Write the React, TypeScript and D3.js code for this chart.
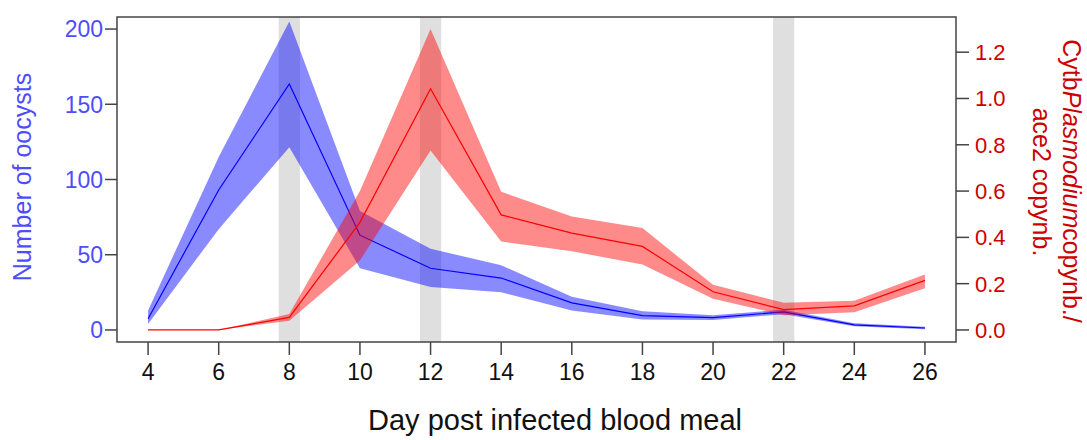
import React, { useRef, useEffect } from 'react';
import * as d3 from 'd3';

const days = [4, 6, 8, 10, 12, 14, 16, 18, 20, 22, 24, 26];

// oocyst counts (left axis)
const oocystMean = [7.5, 93, 163.5, 63, 41, 34.5, 18, 9.5, 8.2, 12, 3.4, 1.3];
const oocystUpper = [13, 115, 205, 79, 54, 43, 22, 12.5, 9.8, 13.5, 4.4, 2.2];
const oocystLower = [4, 67, 121.5, 41, 28.5, 25, 13, 7, 6.6, 10.5, 2.4, 0.5];

// Cytb / ace2 ratio (right axis)
const cytbMean = [0, 0, 0.054, 0.465, 1.042, 0.497, 0.418, 0.361, 0.165, 0.088, 0.104, 0.214];
const cytbUpper = [0, 0, 0.069, 0.6, 1.3, 0.597, 0.49, 0.44, 0.195, 0.118, 0.126, 0.24];
const cytbLower = [0, 0, 0.04, 0.3, 0.775, 0.382, 0.34, 0.283, 0.135, 0.064, 0.077, 0.18];

const highlightDays = [8, 12, 22];

const xTicks = [4, 6, 8, 10, 12, 14, 16, 18, 20, 22, 24, 26];
const leftTicks = [0, 50, 100, 150, 200];
const rightTicks = [0, 0.2, 0.4, 0.6, 0.8, 1.0, 1.2];

const App = () => {
  const svgRef = useRef<SVGSVGElement>(null);

  useEffect(() => {
    const width = 1087;
    const height = 440;
    const margin = { top: 17, right: 131, bottom: 98, left: 117 };
    const svg = d3.select(svgRef.current).attr('width', width).attr('height', height);
    svg.selectAll('*').remove();

    const font = '"Liberation Sans", Arial, sans-serif';
    const blueText = '#4d4dff';
    const redText = '#cc0000';
    const axisCol = '#444';

    // R style: 4% padding on each side
    const pad = (lo: number, hi: number) => [lo - (hi - lo) * 0.04, hi + (hi - lo) * 0.04];

    const x = d3.scaleLinear().domain(pad(4, 26)).range([margin.left, width - margin.right]);
    const yL = d3.scaleLinear().domain(pad(0, 200)).range([height - margin.bottom, margin.top]);
    const yR = d3.scaleLinear().domain(pad(0, 1.3)).range([height - margin.bottom, margin.top]);

    const top = margin.top;
    const bottom = height - margin.bottom;

    // grey day bands
    svg
      .selectAll('rect.band')
      .data(highlightDays)
      .enter()
      .append('rect')
      .attr('x', (d) => x(d - 0.3))
      .attr('width', (d) => x(d + 0.3) - x(d - 0.3))
      .attr('y', top)
      .attr('height', bottom - top)
      .attr('fill', '#dfdfdf');

    const idx = d3.range(days.length);

    const blueArea = d3
      .area<number>()
      .x((i) => x(days[i]))
      .y0((i) => yL(oocystLower[i]))
      .y1((i) => yL(oocystUpper[i]));
    const blueLine = d3
      .line<number>()
      .x((i) => x(days[i]))
      .y((i) => yL(oocystMean[i]));

    const redArea = d3
      .area<number>()
      .x((i) => x(days[i]))
      .y0((i) => yR(cytbLower[i]))
      .y1((i) => yR(cytbUpper[i]));
    const redLine = d3
      .line<number>()
      .x((i) => x(days[i]))
      .y((i) => yR(cytbMean[i]));

    svg.append('path').attr('d', blueArea(idx)).attr('fill', 'rgba(0,0,255,0.46)');
    svg.append('path').attr('d', blueLine(idx)).attr('fill', 'none').attr('stroke', '#0000ff').attr('stroke-width', 1.2);
    svg.append('path').attr('d', redArea(idx)).attr('fill', 'rgba(255,0,0,0.46)');
    svg.append('path').attr('d', redLine(idx)).attr('fill', 'none').attr('stroke', '#ff0000').attr('stroke-width', 1.2);

    // box
    svg
      .append('rect')
      .attr('x', margin.left)
      .attr('y', top)
      .attr('width', width - margin.right - margin.left)
      .attr('height', bottom - top)
      .attr('fill', 'none')
      .attr('stroke', axisCol)
      .attr('stroke-width', 1.5);

    // x axis
    const gx = svg.append('g');
    gx.selectAll('line')
      .data(xTicks)
      .enter()
      .append('line')
      .attr('x1', (d) => x(d))
      .attr('x2', (d) => x(d))
      .attr('y1', bottom)
      .attr('y2', bottom + 13)
      .attr('stroke', axisCol)
      .attr('stroke-width', 1.5);
    gx.selectAll('text')
      .data(xTicks)
      .enter()
      .append('text')
      .attr('x', (d) => x(d))
      .attr('y', 380)
      .attr('text-anchor', 'middle')
      .attr('font-family', font)
      .attr('font-size', 23)
      .attr('fill', '#111')
      .text((d) => d);
    svg
      .append('text')
      .attr('x', 555)
      .attr('y', 430)
      .attr('text-anchor', 'middle')
      .attr('font-family', font)
      .attr('font-size', 29)
      .attr('fill', '#111')
      .text('Day post infected blood meal');

    // left axis
    const gl = svg.append('g');
    gl.selectAll('line')
      .data(leftTicks)
      .enter()
      .append('line')
      .attr('x1', margin.left - 12)
      .attr('x2', margin.left)
      .attr('y1', (d) => yL(d))
      .attr('y2', (d) => yL(d))
      .attr('stroke', axisCol)
      .attr('stroke-width', 1.5);
    gl.selectAll('text')
      .data(leftTicks)
      .enter()
      .append('text')
      .attr('x', 103)
      .attr('y', (d) => yL(d))
      .attr('dy', '0.36em')
      .attr('text-anchor', 'end')
      .attr('font-family', font)
      .attr('font-size', 23)
      .attr('fill', blueText)
      .text((d) => d);
    svg
      .append('text')
      .attr('transform', 'translate(31,177) rotate(-90)')
      .attr('text-anchor', 'middle')
      .attr('font-family', font)
      .attr('font-size', 25)
      .attr('fill', blueText)
      .text('Number of oocysts');

    // right axis
    const xr = width - margin.right;
    const gr = svg.append('g');
    gr.selectAll('line')
      .data(rightTicks)
      .enter()
      .append('line')
      .attr('x1', xr)
      .attr('x2', xr + 13)
      .attr('y1', (d) => yR(d))
      .attr('y2', (d) => yR(d))
      .attr('stroke', axisCol)
      .attr('stroke-width', 1.5);
    gr.selectAll('text')
      .data(rightTicks)
      .enter()
      .append('text')
      .attr('x', 975)
      .attr('y', (d) => yR(d))
      .attr('dy', '0.36em')
      .attr('font-family', font)
      .attr('font-size', 22)
      .attr('fill', redText)
      .text((d) => d.toFixed(1));

    const title = svg
      .append('text')
      .attr('transform', 'translate(1063,181) rotate(90)')
      .attr('text-anchor', 'middle')
      .attr('font-family', font)
      .attr('font-size', 25)
      .attr('fill', redText);
    title.append('tspan').text('Cytb');
    title.append('tspan').attr('font-style', 'italic').text('Plasmodium');
    title.append('tspan').text('copynb./');
    svg
      .append('text')
      .attr('transform', 'translate(1033,182) rotate(90)')
      .attr('text-anchor', 'middle')
      .attr('font-family', font)
      .attr('font-size', 25)
      .attr('fill', redText)
      .text('ace2 copynb.');
  }, []);

  return <svg ref={svgRef} style={{ position: 'absolute', left: 0, top: 0 }}></svg>;
};

export default App;
